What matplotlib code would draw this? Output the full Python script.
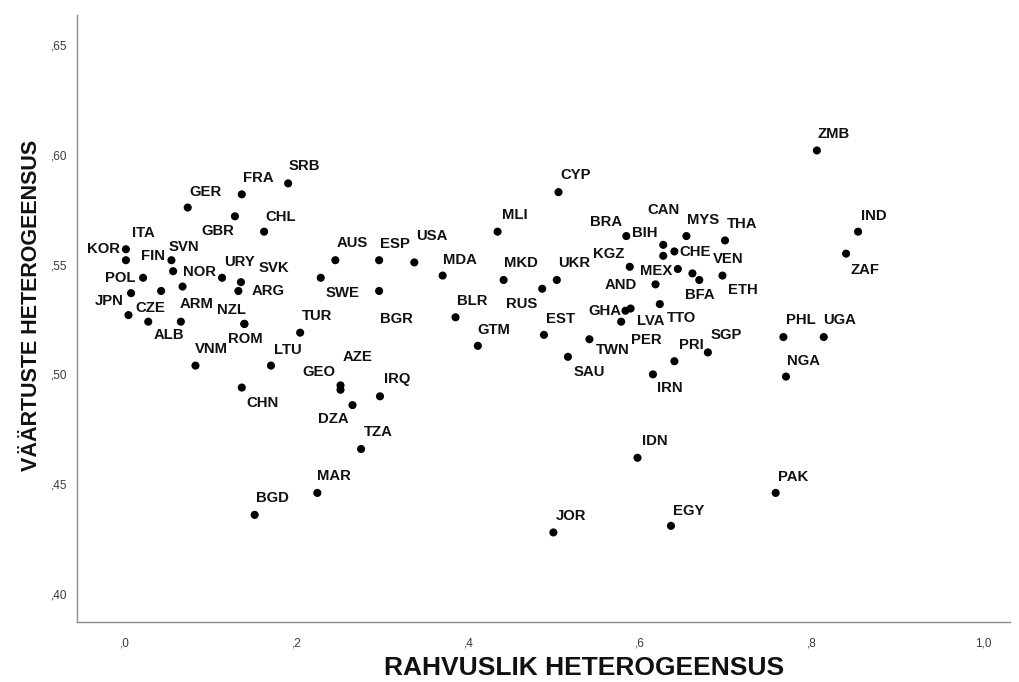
import matplotlib
matplotlib.use("Agg")
import matplotlib.pyplot as plt

# country codes with ethnic heterogeneity (x) and value heterogeneity (y)
codes = ["SRB", "FRA", "GER", "GBR", "CHL", "KOR", "ITA", "SVN", "FIN", "POL",
         "URY", "NOR", "SVK", "ARG", "", "JPN", "CZE", "ALB", "ARM", "NZL",
         "ROM", "VNM", "LTU", "TUR", "CHN", "GEO", "AZE", "DZA", "IRQ", "TZA",
         "MAR", "BGD", "AUS", "ESP", "USA", "SWE", "BGR", "MDA", "BLR", "GTM",
         "MLI", "MKD", "CYP", "UKR", "RUS", "EST", "SAU", "TWN", "BRA", "CAN",
         "BIH", "CHE", "MYS", "THA", "KGZ", "MEX", "BFA", "VEN", "ETH", "AND",
         "TTO", "GHA", "LVA", "PER", "PRI", "SGP", "IRN", "IDN", "JOR", "EGY",
         "ZMB", "IND", "ZAF", "PHL", "UGA", "NGA", "PAK"]

rahvuslik = [0.190, 0.136, 0.073, 0.128, 0.162, 0.001, 0.001, 0.054, 0.056, 0.021,
             0.113, 0.067, 0.135, 0.132, 0.042, 0.007, 0.004, 0.027, 0.065, 0.139,
             0.139, 0.082, 0.170, 0.204, 0.136, 0.251, 0.251, 0.265, 0.297, 0.275,
             0.224, 0.151, 0.245, 0.296, 0.337, 0.228, 0.296, 0.370, 0.385, 0.411,
             0.434, 0.441, 0.505, 0.503, 0.486, 0.488, 0.516, 0.541, 0.584, 0.627,
             0.627, 0.640, 0.654, 0.699, 0.588, 0.644, 0.661, 0.669, 0.696, 0.618,
             0.623, 0.583, 0.589, 0.578, 0.640, 0.679, 0.615, 0.597, 0.499, 0.636,
             0.806, 0.854, 0.840, 0.767, 0.814, 0.770, 0.758]

vaartuste = [0.587, 0.582, 0.576, 0.572, 0.565, 0.557, 0.552, 0.552, 0.547, 0.544,
             0.544, 0.540, 0.542, 0.538, 0.538, 0.537, 0.527, 0.524, 0.524, 0.523,
             0.523, 0.504, 0.504, 0.519, 0.494, 0.495, 0.493, 0.486, 0.490, 0.466,
             0.446, 0.436, 0.552, 0.552, 0.551, 0.544, 0.538, 0.545, 0.526, 0.513,
             0.565, 0.543, 0.583, 0.543, 0.539, 0.518, 0.508, 0.516, 0.563, 0.559,
             0.554, 0.556, 0.563, 0.561, 0.549, 0.548, 0.546, 0.543, 0.545, 0.541,
             0.532, 0.529, 0.530, 0.524, 0.506, 0.510, 0.500, 0.462, 0.428, 0.431,
             0.602, 0.565, 0.555, 0.517, 0.517, 0.499, 0.446]

x_ticks = [0.0, 0.2, 0.4, 0.6, 0.8, 1.0]
x_tick_labels = [",0", ",2", ",4", ",6", ",8", "1,0"]
y_ticks = [0.40, 0.45, 0.50, 0.55, 0.60, 0.65]
y_tick_labels = [",40", ",45", ",50", ",55", ",60", ",65"]

# where each label sits relative to its dot (pixels)
label_offsets = {
    "SRB": (16, 17), "FRA": (17, 16), "GER": (18, 16), "GBR": (-17, -15),
    "CHL": (17, 15), "KOR": (-22, 0), "ITA": (17, 27), "SVN": (13, 13),
    "FIN": (-20, 15), "POL": (-23, 0), "URY": (17, 16), "NOR": (17, 15),
    "SVK": (33, 14), "ARG": (30, 0), "JPN": (-22, -8), "CZE": (22, 7),
    "ALB": (21, -13), "ARM": (16, 18), "NZL": (-13, 14), "ROM": (1, -15),
    "VNM": (16, 17), "LTU": (17, 16), "TUR": (17, 17), "CHN": (21, -15),
    "GEO": (-22, 13), "AZE": (17, 33), "DZA": (-19, -14), "IRQ": (17, 17),
    "TZA": (17, 17), "MAR": (17, 17), "BGD": (18, 17), "AUS": (17, 17),
    "ESP": (16, 16), "USA": (17, 26), "SWE": (22, -15), "BGR": (17, -28),
    "MDA": (17, 16), "BLR": (17, 16), "GTM": (16, 16), "MLI": (17, 17),
    "MKD": (17, 17), "CYP": (17, 17), "UKR": (17, 17), "RUS": (-21, -15),
    "EST": (17, 16), "SAU": (21, -15), "TWN": (23, -11), "BRA": (-20, 14),
    "CAN": (0, 35), "BIH": (-18, 23), "CHE": (21, -1), "MYS": (17, 16),
    "THA": (17, 16), "KGZ": (-21, 13), "MEX": (-22, -2), "BFA": (7, -22),
    "VEN": (29, 21), "ETH": (20, -14), "AND": (-35, -1), "TTO": (22, -14),
    "GHA": (-21, 0), "LVA": (20, -12), "PER": (25, -18), "PRI": (17, 16),
    "SGP": (18, 17), "IRN": (17, -14), "IDN": (17, 17), "JOR": (18, 16),
    "EGY": (18, 15), "ZMB": (17, 16), "IND": (16, 16), "ZAF": (19, -16),
    "PHL": (17, 17), "UGA": (16, 17), "NGA": (18, 16), "PAK": (17, 16),
}

W, H = 1020, 682
fig = plt.figure(figsize=(W / 100, H / 100), dpi=100)
ax = fig.add_axes([77 / W, 60 / H, 933 / W, 607 / H])

ax.scatter(rahvuslik, vaartuste, s=34, color="black", edgecolors="none", zorder=3)

for code, xv, yv in zip(codes, rahvuslik, vaartuste):
    if not code:
        continue
    dx, dy = label_offsets[code]
    ax.annotate(code, (xv, yv), xytext=(dx, dy), textcoords="offset pixels",
                ha="center", va="center", fontsize=10.7, fontweight="bold",
                family="Liberation Sans", color="#111111")

ax.set_xlim(-0.056, 1.031)
ax.set_ylim(0.3872, 0.6637)
ax.set_xticks(x_ticks)
ax.set_xticklabels(x_tick_labels)
ax.set_yticks(y_ticks)
ax.set_yticklabels(y_tick_labels)
ax.tick_params(length=0, colors="#3a3a3a", labelsize=8.5)
ax.tick_params(axis="x", pad=11)
ax.tick_params(axis="y", pad=7)
for lab in ax.get_xticklabels() + ax.get_yticklabels():
    lab.set_family("Liberation Sans")

for side in ["top", "right"]:
    ax.spines[side].set_visible(False)
for side in ["left", "bottom"]:
    ax.spines[side].set_color("#8c8c8c")
    ax.spines[side].set_linewidth(1)

fig.text(584 / W, 1 - 668 / H, "RAHVUSLIK HETEROGEENSUS", ha="center", va="center",
         fontsize=19, fontweight="bold", family="Liberation Sans", color="#111111")
fig.text(32 / W, 1 - 305 / H, "VÄÄRTUSTE HETEROGEENSUS", ha="center", va="center",
         rotation=90, fontsize=15.5, fontweight="bold", family="Liberation Sans",
         color="#111111")

fig.savefig("out.png", dpi=100)
